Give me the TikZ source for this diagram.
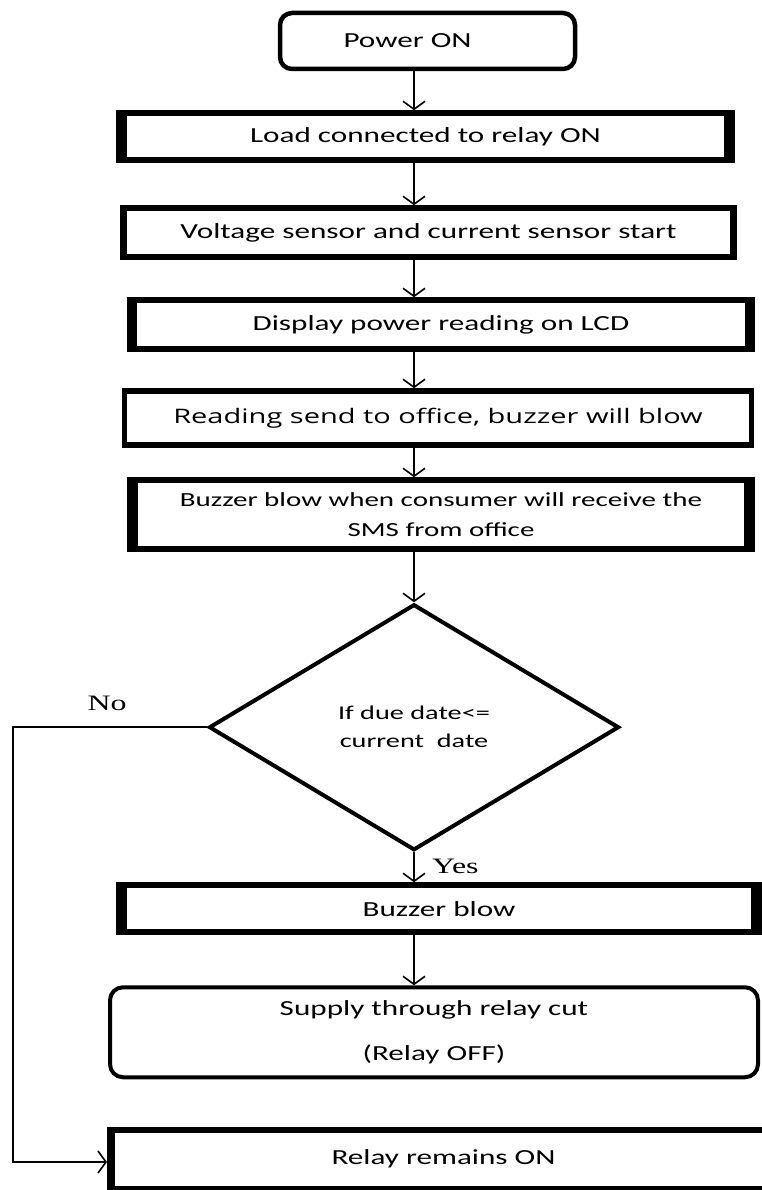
\documentclass[tikz,border=0pt]{standalone}
\usepackage{fontspec}
\setmainfont{Carlito}[FakeStretch=1.45]
\newfontfamily\readfont{Open Sans}[FakeStretch=1.45]
\newfontfamily\labelfont{Liberation Serif}[FakeStretch=1.45]
\usetikzlibrary{shapes.geometric, arrows.meta, positioning}
\tikzset{
  heavybox/.style={rectangle, fill=black, outer sep=0pt, inner sep=0pt, align=center,
    font=\fontsize{21.5}{26}\selectfont,
    path picture={\fill[white] ([shift={(#1,-6pt)}]path picture bounding box.north west)
      rectangle ([shift={(-#1,6pt)}]path picture bounding box.south east);}},
  heavybox/.default=11pt,
  roundbox/.style={rectangle, rounded corners=12pt, draw, line width=4.5pt, align=center,
    font=\fontsize{21.5}{26}\selectfont},
  decision/.style={diamond, draw, line width=4pt, inner sep=0pt, align=center,
    font=\fontsize{19.5}{28}\selectfont},
  flow/.style={-{Straight Barb[length=8pt, width=22pt]}, line width=1.6pt},
  lbl/.style={font=\labelfont\fontsize{22}{26}\selectfont, inner sep=0pt}
}
\begin{document}
\begin{tikzpicture}[x=1pt, y=-1pt]
  \useasboundingbox (0,0) rectangle (762,1190);
  \node[roundbox, minimum width=295pt, minimum height=56pt] (power) at (427.5,41) {Power ON\hspace*{40pt}};
  \node[heavybox, minimum width=619pt, minimum height=53pt, below=39pt of power, xshift=-2pt] (load) {Load connected to relay ON};
  \node[heavybox=7pt, minimum width=617pt, minimum height=55pt, below=42pt of load, xshift=3pt] (volt) {Voltage sensor and current sensor start};
  \node[heavybox=10pt, minimum width=628pt, minimum height=55pt, below=37pt of volt, xshift=12.5pt] (disp) {Display power reading on LCD};
  \node[heavybox=5pt, minimum width=632pt, minimum height=60pt, below=36pt of disp, xshift=-3pt,
        font=\readfont\fontsize{20}{24}\selectfont] (send) {Reading send to office, buzzer will blow};
  \node[heavybox, minimum width=628pt, minimum height=75pt, below=29pt of send, xshift=3pt,
        font=\fontsize{20}{30}\selectfont] (sms) {Buzzer blow when consumer will receive the\\SMS from office};
  \node[decision, minimum width=410pt, minimum height=246pt, below=50pt of sms, xshift=-27pt] (due) {If due date<=\\current\ \ date};
  \node[heavybox, minimum width=646pt, minimum height=53pt, below=30pt of due, xshift=25pt] (blow) {Buzzer blow};
  \node[roundbox, line width=4pt, rounded corners=13pt, minimum width=648pt, minimum height=90pt,
        below=50pt of blow, xshift=-5pt] (cut) {Supply through relay cut\\[19pt](Relay OFF)};
  \node[heavybox=8pt, minimum width=673pt, minimum height=65pt, below=48pt of cut, xshift=9.5pt] (keep) {\raisebox{6pt}{Relay remains ON}};

  \node[lbl] (nolbl) at (107,703) {No};
  \node[lbl, anchor=west] (yeslbl) at (432,866) {Yes};

  \draw[flow] (due |- power.south) -- (due |- load.north);
  \draw[flow] (due |- load.south) -- (due |- volt.north);
  \draw[flow] (due |- volt.south) -- (due |- disp.north);
  \draw[flow] (due |- disp.south) -- (due |- send.north);
  \draw[flow] (due |- send.south) -- (due |- sms.north);
  \draw[flow] (due |- sms.south) -- (due.north);
  \draw[flow] (due.south) -- (due |- blow.north);
  \draw[flow] (due |- blow.south) -- (due |- cut.north);
  \coordinate (nobend) at (13,1162);
  \draw[flow] (due.west) -| (nobend) -- (nobend -| keep.west);
\end{tikzpicture}
\end{document}
